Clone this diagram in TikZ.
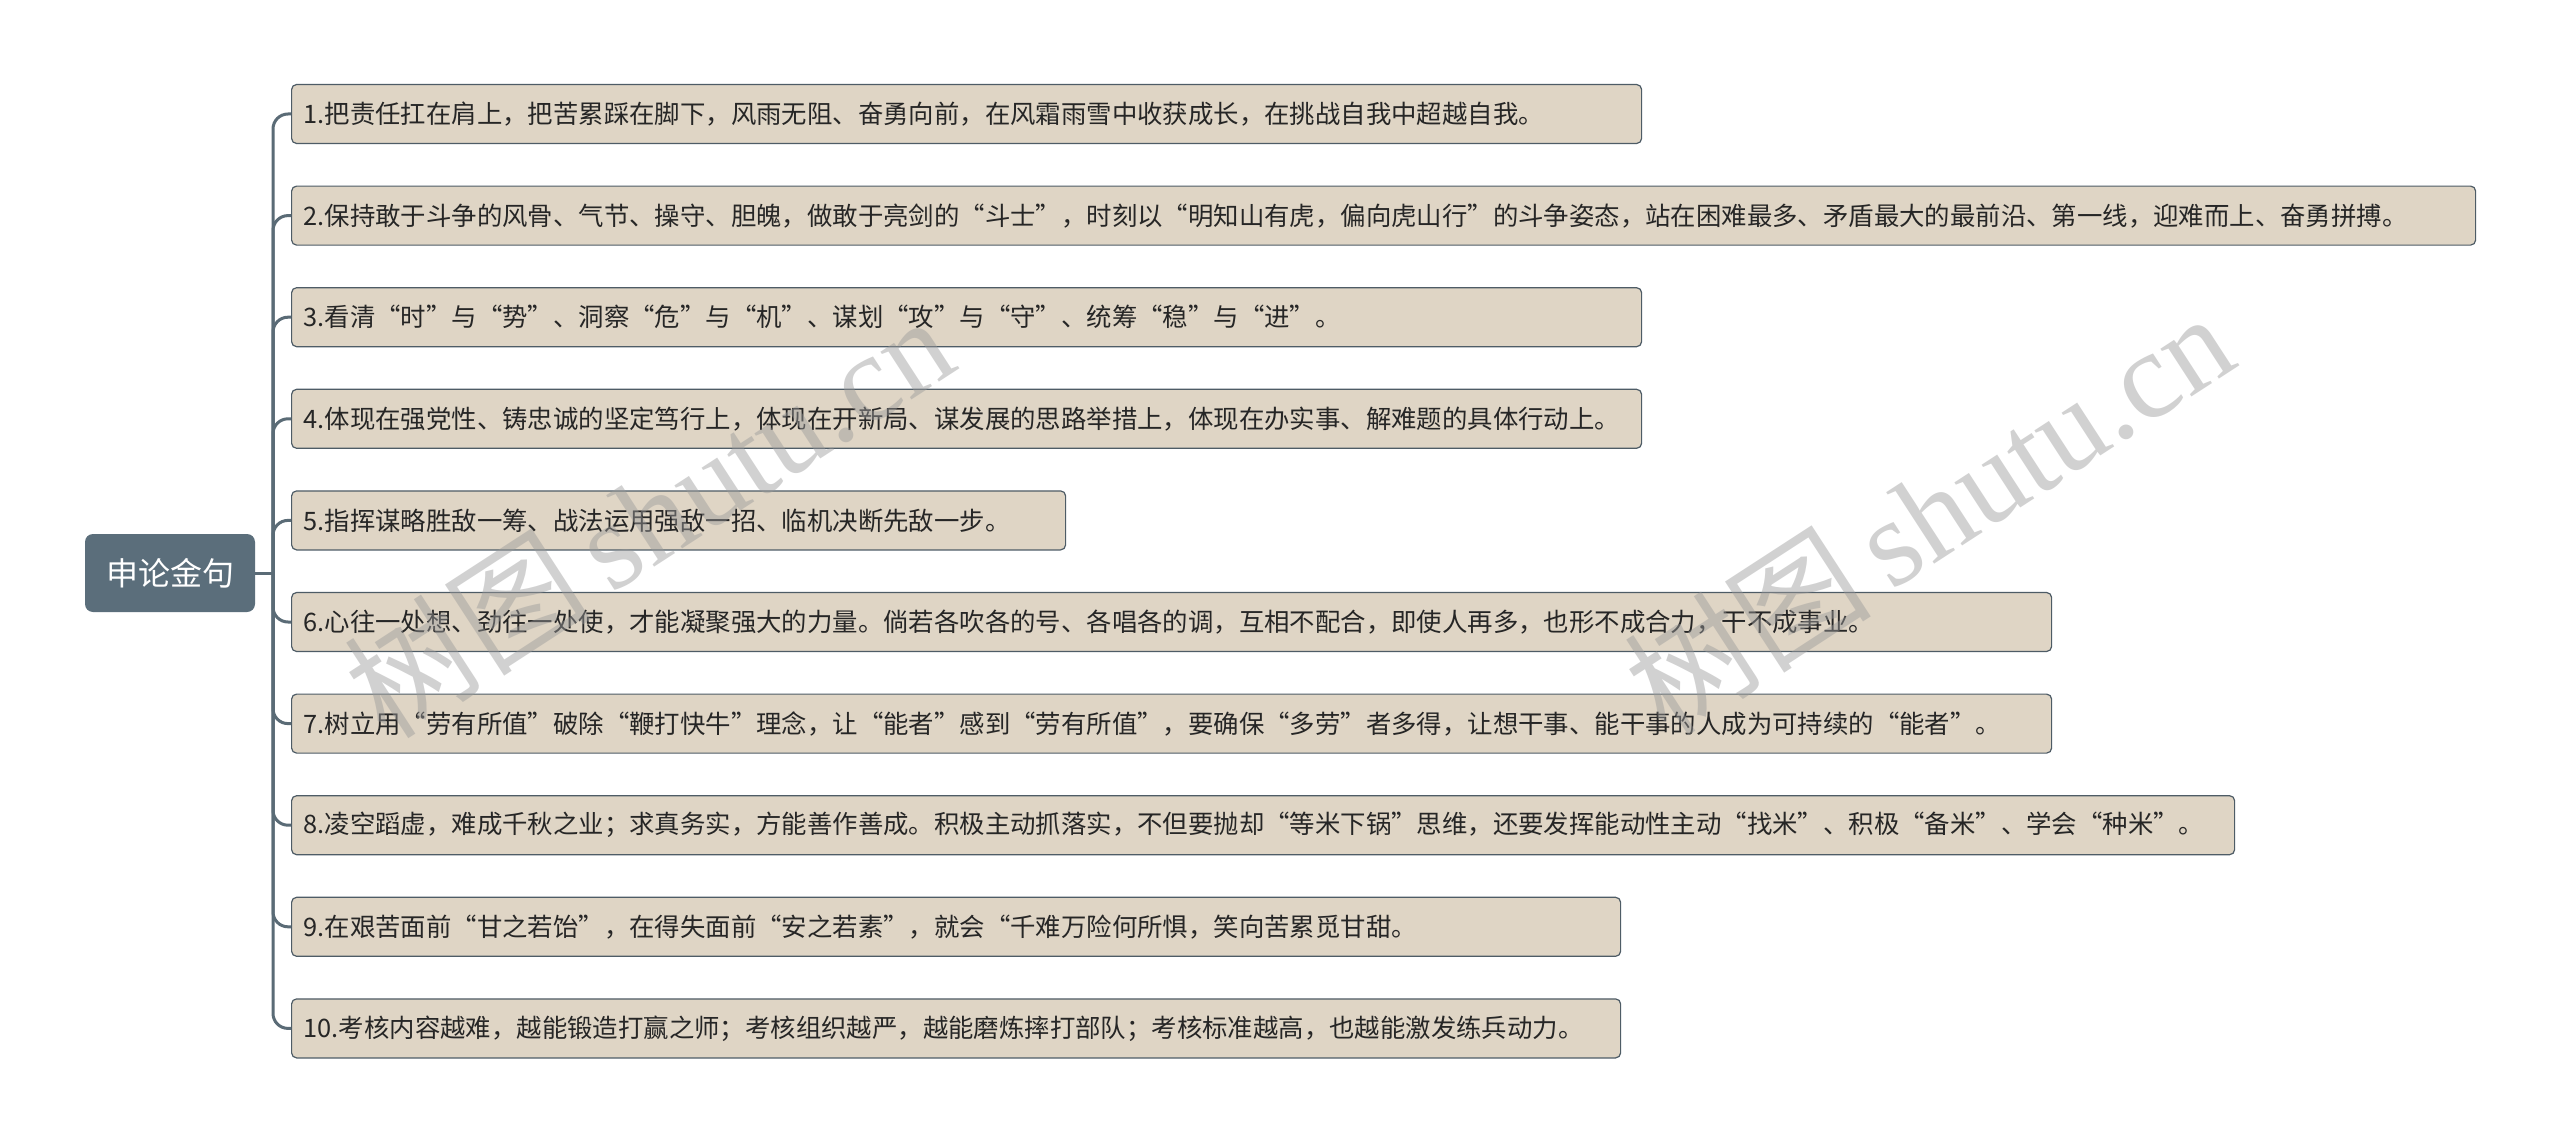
\documentclass[tikz,border=0pt]{standalone}
\usepackage{fontspec}
\setmainfont{Noto Sans CJK SC}
\newfontfamily\wmcjk{Noto Sans CJK SC}
\newfontfamily\wmlatin{Liberation Serif}
\definecolor{leaffill}{HTML}{DFD5C5}
\definecolor{leafline}{HTML}{4E5C66}
\definecolor{connline}{HTML}{5A6B76}
\definecolor{rootfill}{HTML}{5B6E7B}
\definecolor{txt}{HTML}{262626}
\definecolor{wmgray}{HTML}{9A9A9A}
\tikzset{
  leaf/.style={draw=leafline, line width=1.2pt, fill=leaffill, rounded corners=5pt,
    anchor=west, minimum height=59pt, inner xsep=12pt, inner ysep=0pt,
    text=txt, font=\fontsize{25.4pt}{30pt}\selectfont},
  rootbox/.style={fill=rootfill, rounded corners=8pt, minimum width=170pt,
    minimum height=78pt, inner sep=0pt, text=white,
    font=\fontsize{32pt}{38pt}\selectfont},
  conn/.style={draw=connline, line width=3pt, rounded corners=15pt},
  wmark/.style={text=wmgray, opacity=0.45, rotate=33, inner sep=0pt}
}
\begin{document}
\begin{tikzpicture}[x=1pt,y=-1pt]
\useasboundingbox[fill=white] (0,0) rectangle (2560,1145);
\node[rootbox] (root) at (170,573) {申论金句};
\coordinate (j) at (273,573);
\node[leaf] (c1) at (291,114) {\makebox[1326pt][l]{1.把责任扛在肩上，把苦累踩在脚下，风雨无阻、奋勇向前，在风霜雨雪中收获成长，在挑战自我中超越自我。}};
\node[leaf] (c2) at (291,215.6) {\makebox[2160pt][l]{2.保持敢于斗争的风骨、气节、操守、胆魄，做敢于亮剑的“斗士”，时刻以“明知山有虎，偏向虎山行”的斗争姿态，站在困难最多、矛盾最大的最前沿、第一线，迎难而上、奋勇拼搏。}};
\node[leaf] (c3) at (291,317.2) {\makebox[1326pt][l]{3.看清“时”与“势”、洞察“危”与“机”、谋划“攻”与“守”、统筹“稳”与“进”。}};
\node[leaf] (c4) at (291,418.8) {\makebox[1326pt][l]{4.体现在强党性、铸忠诚的坚定笃行上，体现在开新局、谋发展的思路举措上，体现在办实事、解难题的具体行动上。}};
\node[leaf] (c5) at (291,520.4) {\makebox[750pt][l]{5.指挥谋略胜敌一筹、战法运用强敌一招、临机决断先敌一步。}};
\node[leaf] (c6) at (291,622) {\makebox[1736pt][l]{6.心往一处想、劲往一处使，才能凝聚强大的力量。倘若各吹各的号、各唱各的调，互相不配合，即使人再多，也形不成合力，干不成事业。}};
\node[leaf] (c7) at (291,723.6) {\makebox[1736pt][l]{7.树立用“劳有所值”破除“鞭打快牛”理念，让“能者”感到“劳有所值”，要确保“多劳”者多得，让想干事、能干事的人成为可持续的“能者”。}};
\node[leaf] (c8) at (291,825.2) {\makebox[1919pt][l]{8.凌空蹈虚，难成千秋之业；求真务实，方能善作善成。积极主动抓落实，不但要抛却“等米下锅”思维，还要发挥能动性主动“找米”、积极“备米”、学会“种米”。}};
\node[leaf] (c9) at (291,926.8) {\makebox[1305pt][l]{9.在艰苦面前“甘之若饴”，在得失面前“安之若素”，就会“千难万险何所惧，笑向苦累觅甘甜。}};
\node[leaf] (c10) at (291,1028.4) {\makebox[1305pt][l]{10.考核内容越难，越能锻造打赢之师；考核组织越严，越能磨炼摔打部队；考核标准越高，也越能激发练兵动力。}};
\draw[conn] (root.east) -- (j);
\foreach \c in {c1,c2,c3,c4,c5,c6,c7,c8,c9,c10}{
  \draw[conn] (j) |- (\c.west);
}
\node[wmark] (wm1) at (648,515) {\fontsize{124pt}{126pt}\wmcjk 树图\,\wmlatin shutu.cn};
\node[wmark] (wm2) at (1928,512) {\fontsize{124pt}{126pt}\wmcjk 树图\,\wmlatin shutu.cn};
\end{tikzpicture}
\end{document}
